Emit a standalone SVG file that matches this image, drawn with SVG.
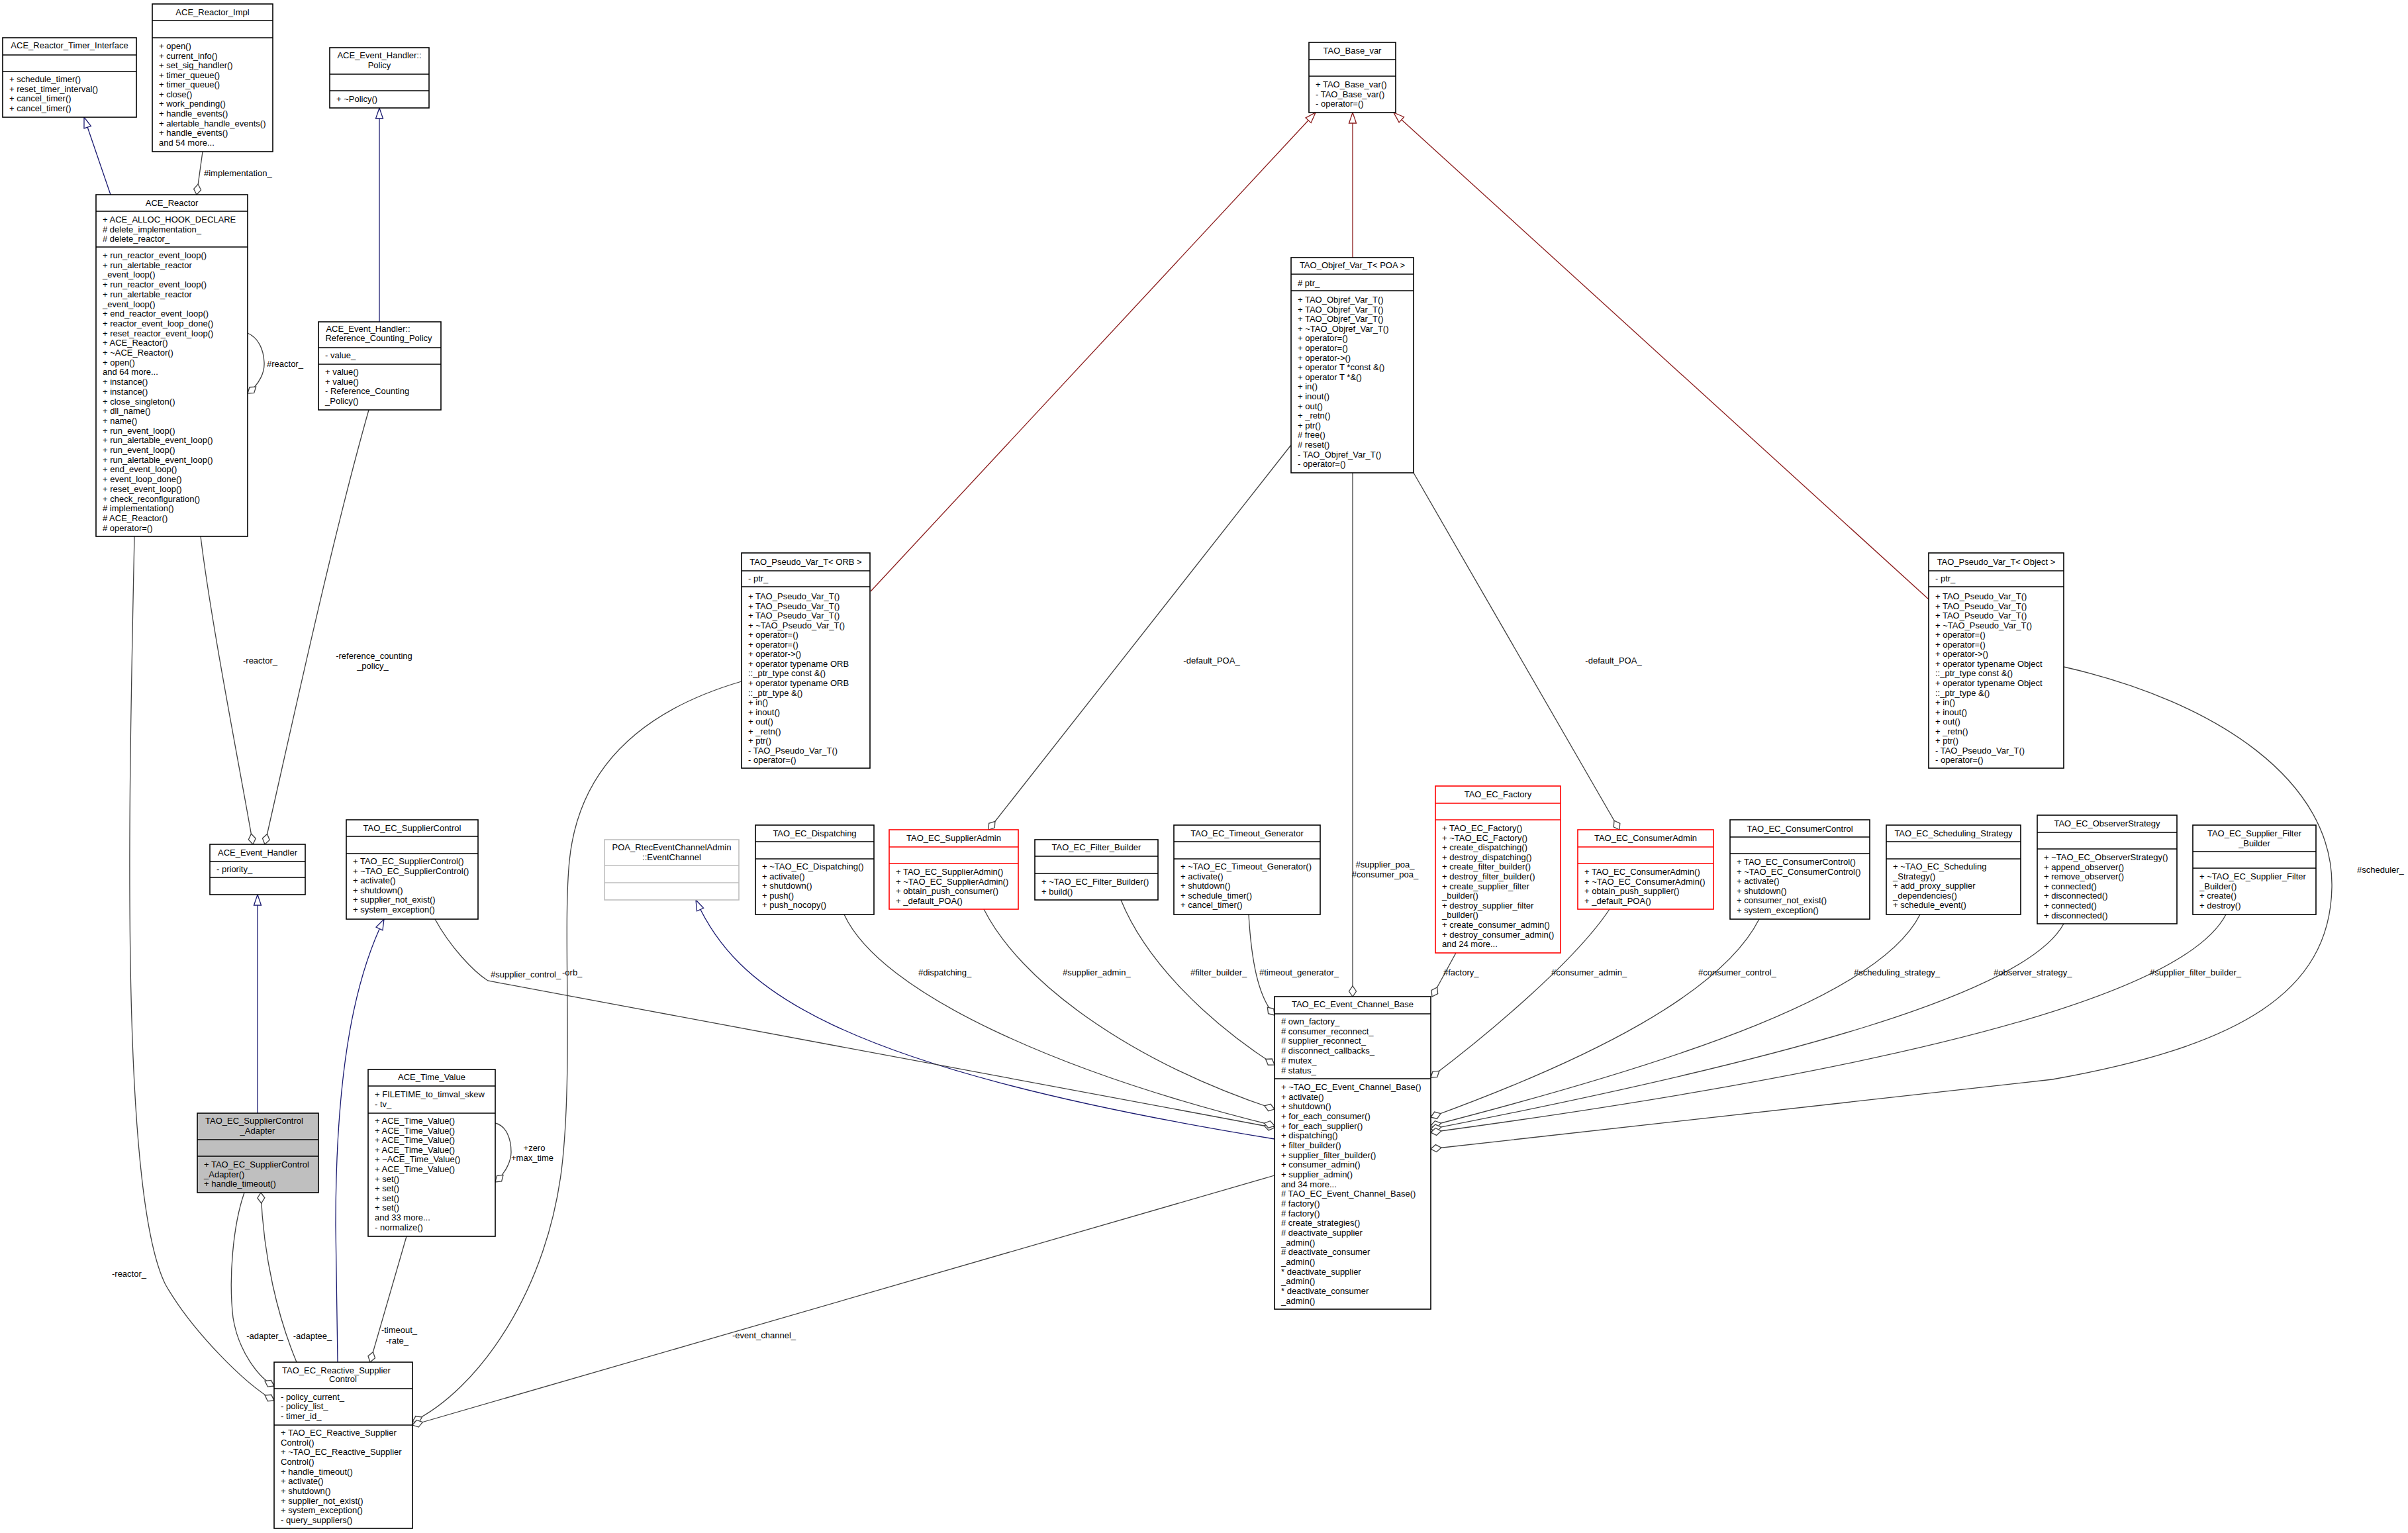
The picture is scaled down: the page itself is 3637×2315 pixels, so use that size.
<svg xmlns="http://www.w3.org/2000/svg" width="3637" height="2315" viewBox="0 0 3637 2315">
<defs>
<style>
text{font-family:"Liberation Sans",Arial,Helvetica,sans-serif;font-size:13px;fill:#000}
.c{text-anchor:middle}
.n rect{fill:#fff;stroke:#000;stroke-width:1.6}
.n path{fill:none;stroke:#000;stroke-width:1.6}
.red rect,.red path{stroke:#ff0000}
.gry rect,.gry path{stroke:#bfbfbf}
.gray rect{fill:#bfbfbf}
.e{fill:none;stroke:#404040;stroke-width:1.3;marker-start:url(#dia)}
.i{fill:none;stroke:#191970;stroke-width:1.3;marker-start:url(#tri)}
.r{fill:none;stroke:#8b1a1a;stroke-width:1.3;marker-start:url(#trir)}
</style>
<marker id="dia" markerUnits="userSpaceOnUse" viewBox="-1 -7 19 14" refX="0" refY="0" markerWidth="19" markerHeight="14" orient="auto"><path d="M0,0 L8,-5.5 L16,0 L8,5.5 Z" fill="#fff" stroke="#404040" stroke-width="1.3"/></marker>
<marker id="tri" markerUnits="userSpaceOnUse" viewBox="-1 -7 19 14" refX="0" refY="0" markerWidth="19" markerHeight="14" orient="auto"><path d="M0,0 L16,-5.5 L16,5.5 Z" fill="#fff" stroke="#191970" stroke-width="1.3"/></marker>
<marker id="trir" markerUnits="userSpaceOnUse" viewBox="-1 -7 19 14" refX="0" refY="0" markerWidth="19" markerHeight="14" orient="auto"><path d="M0,0 L16,-5.5 L16,5.5 Z" fill="#fff" stroke="#8b1a1a" stroke-width="1.3"/></marker>
</defs>
<rect x="0" y="0" width="3637" height="2315" fill="#fff"/>
<g id="connectors">
<path class="i" d="M127,177 L167,294"/>
<path class="e" d="M297,294 L306,229"/>
<text x="308" y="266">#implementation_</text>
<path class="i" d="M573,163 L573,486"/>
<path class="e" d="M374,594 C392,580 400,562 399,547 C398,527 390,510 374,503"/>
<text x="403" y="554">#reactor_</text>
<path class="e" d="M382,1275 C370,1200 320,950 303,810"/>
<text class="c" x="393" y="1002">-reactor_</text>
<path class="e" d="M400,1275 C440,1100 500,820 557,619"/>
<text class="c" x="565" y="995">-reference_counting</text>
<text class="c" x="563" y="1010">_policy_</text>
<path class="i" d="M389,1351 L389,1681"/>
<path class="i" d="M580,1388 C540,1470 507,1600 507,1850 L510,2057"/>
<path class="e" d="M414,2093 C390,2080 360,2040 352,1990 C345,1930 352,1850 369,1801"/>
<text class="c" x="400" y="2022">-adapter_</text>
<path class="e" d="M394,1801 C398,1900 420,1990 448,2057"/>
<text class="c" x="472" y="2022">-adaptee_</text>
<path class="e" d="M559,2057 L614,1867"/>
<text class="c" x="603" y="2013">-timeout_</text>
<text class="c" x="600" y="2029">-rate_</text>
<path class="e" d="M748,1785 C765,1770 772,1752 772,1740 C772,1720 765,1700 748,1696"/>
<text class="c" x="807" y="1738">+zero</text>
<text class="c" x="804" y="1753">+max_time</text>
<path class="e" d="M414,2115 C370,2090 290,2010 250,1940 C180,1800 195,1200 203,810"/>
<text class="c" x="195" y="1928">-reactor_</text>
<path class="e" d="M623,2147 C720,2100 830,1950 850,1750 C865,1600 850,1400 860,1300 C875,1150 980,1070 1120,1029"/>
<text x="849" y="1473">-orb_</text>
<path class="e" d="M623,2152 L1925,1775"/>
<text class="c" x="1154" y="2021">-event_channel_</text>
<path class="i" d="M1051,1359 C1110,1490 1250,1610 1925,1720"/>
<path class="e" d="M1925,1703 L737,1481 C715,1467 680,1430 657,1388"/>
<text x="741" y="1476">#supplier_control_</text>
<path class="e" d="M1925,1700 C1600,1620 1330,1500 1275,1381"/>
<text x="1387" y="1473">#dispatching_</text>
<path class="e" d="M1925,1675 C1700,1600 1540,1480 1486,1373"/>
<text x="1605" y="1473">#supplier_admin_</text>
<path class="e" d="M1925,1608 C1820,1540 1730,1450 1693,1359"/>
<text x="1798" y="1473">#filter_builder_</text>
<path class="e" d="M1925,1533 C1900,1505 1890,1450 1886,1381"/>
<text x="1902" y="1473">#timeout_generator_</text>
<path class="e" d="M2043,1505 L2043,714"/>
<text class="c" x="2092" y="1310">#supplier_poa_</text>
<text class="c" x="2092" y="1325">#consumer_poa_</text>
<path class="e" d="M2163,1505 L2199,1439"/>
<text x="2180" y="1473">#factory_</text>
<path class="e" d="M2161,1627 C2250,1560 2380,1450 2431,1373"/>
<text x="2343" y="1473">#consumer_admin_</text>
<path class="e" d="M2161,1687 C2400,1600 2600,1500 2657,1388"/>
<text x="2565" y="1473">#consumer_control_</text>
<path class="e" d="M2161,1700 C2550,1600 2840,1500 2900,1381"/>
<text x="2800" y="1473">#scheduling_strategy_</text>
<path class="e" d="M2161,1705 C2700,1600 3060,1500 3117,1395"/>
<text x="3011" y="1473">#observer_strategy_</text>
<path class="e" d="M2161,1710 C2900,1610 3300,1500 3362,1381"/>
<text x="3247" y="1473">#supplier_filter_builder_</text>
<path class="e" d="M2161,1735 L3100,1630 C3380,1580 3519,1500 3522,1340 C3525,1180 3350,1060 3117,1007"/>
<text x="3560" y="1318">#scheduler_</text>
<path class="r" d="M1987,170 L1315,893"/>
<path class="r" d="M2043,170 L2043,389"/>
<path class="r" d="M2105,170 L2913,905"/>
<path class="e" d="M1493,1253 L1950,672"/>
<text class="c" x="1830" y="1002">-default_POA_</text>
<path class="e" d="M2446,1253 L2135,714"/>
<text class="c" x="2437" y="1002">-default_POA_</text>
</g>

<g id="n_timer" class="n">
<rect x="4" y="57" width="202" height="120"/>
<path d="M4,83 h202 M4,108 h202"/>
<text class="c" x="105" y="73">ACE_Reactor_Timer_Interface</text>
<text y="124"><tspan x="14">+ schedule_timer()</tspan><tspan x="14" dy="14.7">+ reset_timer_interval()</tspan><tspan x="14" dy="14.7">+ cancel_timer()</tspan><tspan x="14" dy="14.7">+ cancel_timer()</tspan></text>
</g>

<g id="n_impl" class="n">
<rect x="230" y="6" width="182" height="223"/>
<path d="M230,31 h182 M230,57 h182"/>
<text class="c" x="321" y="23">ACE_Reactor_Impl</text>
<text y="74"><tspan x="240">+ open()</tspan><tspan x="240" dy="14.57">+ current_info()</tspan><tspan x="240" dy="14.57">+ set_sig_handler()</tspan><tspan x="240" dy="14.57">+ timer_queue()</tspan><tspan x="240" dy="14.57">+ timer_queue()</tspan><tspan x="240" dy="14.57">+ close()</tspan><tspan x="240" dy="14.57">+ work_pending()</tspan><tspan x="240" dy="14.57">+ handle_events()</tspan><tspan x="240" dy="14.57">+ alertable_handle_events()</tspan><tspan x="240" dy="14.57">+ handle_events()</tspan><tspan x="240" dy="14.57">and 54 more...</tspan></text>
</g>

<g id="n_policy" class="n">
<rect x="498" y="72" width="150" height="91"/>
<path d="M498,112 h150 M498,137 h150"/>
<text class="c" x="573" y="88">ACE_Event_Handler::</text>
<text class="c" x="573" y="103">Policy</text>
<text x="508" y="154">+ ~Policy()</text>
</g>

<g id="n_reactor" class="n">
<rect x="145" y="294" width="229" height="516"/>
<path d="M145,319 h229 M145,373 h229"/>
<text class="c" x="259.5" y="311">ACE_Reactor</text>
<text y="336"><tspan x="155">+ ACE_ALLOC_HOOK_DECLARE</tspan><tspan x="155" dy="14.6"># delete_implementation_</tspan><tspan x="155" dy="14.6"># delete_reactor_</tspan></text>
<text y="390"><tspan x="155">+ run_reactor_event_loop()</tspan><tspan x="155" dy="14.7">+ run_alertable_reactor</tspan><tspan x="155" dy="14.7">_event_loop()</tspan><tspan x="155" dy="14.7">+ run_reactor_event_loop()</tspan><tspan x="155" dy="14.7">+ run_alertable_reactor</tspan><tspan x="155" dy="14.7">_event_loop()</tspan><tspan x="155" dy="14.7">+ end_reactor_event_loop()</tspan><tspan x="155" dy="14.7">+ reactor_event_loop_done()</tspan><tspan x="155" dy="14.7">+ reset_reactor_event_loop()</tspan><tspan x="155" dy="14.7">+ ACE_Reactor()</tspan><tspan x="155" dy="14.7">+ ~ACE_Reactor()</tspan><tspan x="155" dy="14.7">+ open()</tspan><tspan x="155" dy="14.7">and 64 more...</tspan><tspan x="155" dy="14.7">+ instance()</tspan><tspan x="155" dy="14.7">+ instance()</tspan><tspan x="155" dy="14.7">+ close_singleton()</tspan><tspan x="155" dy="14.7">+ dll_name()</tspan><tspan x="155" dy="14.7">+ name()</tspan><tspan x="155" dy="14.7">+ run_event_loop()</tspan><tspan x="155" dy="14.7">+ run_alertable_event_loop()</tspan><tspan x="155" dy="14.7">+ run_event_loop()</tspan><tspan x="155" dy="14.7">+ run_alertable_event_loop()</tspan><tspan x="155" dy="14.7">+ end_event_loop()</tspan><tspan x="155" dy="14.7">+ event_loop_done()</tspan><tspan x="155" dy="14.7">+ reset_event_loop()</tspan><tspan x="155" dy="14.7">+ check_reconfiguration()</tspan><tspan x="155" dy="14.7"># implementation()</tspan><tspan x="155" dy="14.7"># ACE_Reactor()</tspan><tspan x="155" dy="14.7"># operator=()</tspan></text>
</g>

<g id="n_refpol" class="n">
<rect x="481" y="486" width="185" height="133"/>
<path d="M481,525 h185 M481,550 h185"/>
<text class="c" x="556" y="501">ACE_Event_Handler::</text>
<text class="c" x="572" y="515">Reference_Counting_Policy</text>
<text x="491" y="541">- value_</text>
<text y="566"><tspan x="491">+ value()</tspan><tspan x="491" dy="14.6">+ value()</tspan><tspan x="491" dy="14.6">- Reference_Counting</tspan><tspan x="491" dy="14.6">_Policy()</tspan></text>
</g>

<g id="n_evh" class="n">
<rect x="317" y="1275" width="144" height="76"/>
<path d="M317,1301 h144 M317,1325 h144"/>
<text class="c" x="389" y="1292">ACE_Event_Handler</text>
<text x="327" y="1317">- priority_</text>
</g>

<g id="n_supctl" class="n">
<rect x="523" y="1238" width="199" height="150"/>
<path d="M523,1263 h199 M523,1289 h199"/>
<text class="c" x="622.5" y="1255">TAO_EC_SupplierControl</text>
<text y="1305"><tspan x="533">+ TAO_EC_SupplierControl()</tspan><tspan x="533" dy="14.6">+ ~TAO_EC_SupplierControl()</tspan><tspan x="533" dy="14.6">+ activate()</tspan><tspan x="533" dy="14.6">+ shutdown()</tspan><tspan x="533" dy="14.6">+ supplier_not_exist()</tspan><tspan x="533" dy="14.6">+ system_exception()</tspan></text>
</g>

<g id="n_adapter" class="n gray">
<rect x="298" y="1681" width="183" height="120"/>
<path d="M298,1721 h183 M298,1746 h183"/>
<text class="c" x="384" y="1697">TAO_EC_SupplierControl</text>
<text class="c" x="389" y="1712">_Adapter</text>
<text y="1763"><tspan x="308">+ TAO_EC_SupplierControl</tspan><tspan x="308" dy="14.6">_Adapter()</tspan><tspan x="308" dy="14.6">+ handle_timeout()</tspan></text>
</g>

<g id="n_time" class="n">
<rect x="556" y="1615" width="192" height="252"/>
<path d="M556,1640 h192 M556,1681 h192"/>
<text class="c" x="652" y="1631">ACE_Time_Value</text>
<text y="1657"><tspan x="566">+ FILETIME_to_timval_skew</tspan><tspan x="566" dy="14.6">- tv_</tspan></text>
<text y="1697"><tspan x="566">+ ACE_Time_Value()</tspan><tspan x="566" dy="14.6">+ ACE_Time_Value()</tspan><tspan x="566" dy="14.6">+ ACE_Time_Value()</tspan><tspan x="566" dy="14.6">+ ACE_Time_Value()</tspan><tspan x="566" dy="14.6">+ ~ACE_Time_Value()</tspan><tspan x="566" dy="14.6">+ ACE_Time_Value()</tspan><tspan x="566" dy="14.6">+ set()</tspan><tspan x="566" dy="14.6">+ set()</tspan><tspan x="566" dy="14.6">+ set()</tspan><tspan x="566" dy="14.6">+ set()</tspan><tspan x="566" dy="14.6">and 33 more...</tspan><tspan x="566" dy="14.6">- normalize()</tspan></text>
</g>

<g id="n_reactive" class="n">
<rect x="414" y="2057" width="209" height="251"/>
<path d="M414,2097 h209 M414,2152 h209"/>
<text class="c" x="508" y="2074">TAO_EC_Reactive_Supplier</text>
<text class="c" x="518" y="2087">Control</text>
<text y="2114"><tspan x="424">- policy_current_</tspan><tspan x="424" dy="14.3">- policy_list_</tspan><tspan x="424" dy="14.3">- timer_id_</tspan></text>
<text y="2168"><tspan x="424">+ TAO_EC_Reactive_Supplier</tspan><tspan x="424" dy="14.67">Control()</tspan><tspan x="424" dy="14.67">+ ~TAO_EC_Reactive_Supplier</tspan><tspan x="424" dy="14.67">Control()</tspan><tspan x="424" dy="14.67">+ handle_timeout()</tspan><tspan x="424" dy="14.67">+ activate()</tspan><tspan x="424" dy="14.67">+ shutdown()</tspan><tspan x="424" dy="14.67">+ supplier_not_exist()</tspan><tspan x="424" dy="14.67">+ system_exception()</tspan><tspan x="424" dy="14.67">- query_suppliers()</tspan></text>
</g>

<g id="n_basevar" class="n">
<rect x="1977" y="64" width="131" height="106"/>
<path d="M1977,90 h131 M1977,115 h131"/>
<text class="c" x="2042.5" y="81">TAO_Base_var</text>
<text y="132"><tspan x="1987">+ TAO_Base_var()</tspan><tspan x="1987" dy="14.5">- TAO_Base_var()</tspan><tspan x="1987" dy="14.5">- operator=()</tspan></text>
</g>

<g id="n_objref" class="n">
<rect x="1950" y="389" width="185" height="325"/>
<path d="M1950,414 h185 M1950,439 h185"/>
<text class="c" x="2042.5" y="405">TAO_Objref_Var_T&lt; POA &gt;</text>
<text x="1960" y="432"># ptr_</text>
<text y="457"><tspan x="1960">+ TAO_Objref_Var_T()</tspan><tspan x="1960" dy="14.6">+ TAO_Objref_Var_T()</tspan><tspan x="1960" dy="14.6">+ TAO_Objref_Var_T()</tspan><tspan x="1960" dy="14.6">+ ~TAO_Objref_Var_T()</tspan><tspan x="1960" dy="14.6">+ operator=()</tspan><tspan x="1960" dy="14.6">+ operator=()</tspan><tspan x="1960" dy="14.6">+ operator-&gt;()</tspan><tspan x="1960" dy="14.6">+ operator T *const &amp;()</tspan><tspan x="1960" dy="14.6">+ operator T *&amp;()</tspan><tspan x="1960" dy="14.6">+ in()</tspan><tspan x="1960" dy="14.6">+ inout()</tspan><tspan x="1960" dy="14.6">+ out()</tspan><tspan x="1960" dy="14.6">+ _retn()</tspan><tspan x="1960" dy="14.6">+ ptr()</tspan><tspan x="1960" dy="14.6"># free()</tspan><tspan x="1960" dy="14.6"># reset()</tspan><tspan x="1960" dy="14.6">- TAO_Objref_Var_T()</tspan><tspan x="1960" dy="14.6">- operator=()</tspan></text>
</g>

<g id="n_orb" class="n">
<rect x="1120" y="835" width="194" height="325"/>
<path d="M1120,862 h194 M1120,886 h194"/>
<text class="c" x="1217" y="853">TAO_Pseudo_Var_T&lt; ORB &gt;</text>
<text x="1130" y="878">- ptr_</text>
<text y="905"><tspan x="1130">+ TAO_Pseudo_Var_T()</tspan><tspan x="1130" dy="14.55">+ TAO_Pseudo_Var_T()</tspan><tspan x="1130" dy="14.55">+ TAO_Pseudo_Var_T()</tspan><tspan x="1130" dy="14.55">+ ~TAO_Pseudo_Var_T()</tspan><tspan x="1130" dy="14.55">+ operator=()</tspan><tspan x="1130" dy="14.55">+ operator=()</tspan><tspan x="1130" dy="14.55">+ operator-&gt;()</tspan><tspan x="1130" dy="14.55">+ operator typename ORB</tspan><tspan x="1130" dy="14.55">::_ptr_type const &amp;()</tspan><tspan x="1130" dy="14.55">+ operator typename ORB</tspan><tspan x="1130" dy="14.55">::_ptr_type &amp;()</tspan><tspan x="1130" dy="14.55">+ in()</tspan><tspan x="1130" dy="14.55">+ inout()</tspan><tspan x="1130" dy="14.55">+ out()</tspan><tspan x="1130" dy="14.55">+ _retn()</tspan><tspan x="1130" dy="14.55">+ ptr()</tspan><tspan x="1130" dy="14.55">- TAO_Pseudo_Var_T()</tspan><tspan x="1130" dy="14.55">- operator=()</tspan></text>
</g>

<g id="n_object" class="n">
<rect x="2913" y="835" width="204" height="325"/>
<path d="M2913,862 h204 M2913,886 h204"/>
<text class="c" x="3015" y="853">TAO_Pseudo_Var_T&lt; Object &gt;</text>
<text x="2923" y="878">- ptr_</text>
<text y="905"><tspan x="2923">+ TAO_Pseudo_Var_T()</tspan><tspan x="2923" dy="14.55">+ TAO_Pseudo_Var_T()</tspan><tspan x="2923" dy="14.55">+ TAO_Pseudo_Var_T()</tspan><tspan x="2923" dy="14.55">+ ~TAO_Pseudo_Var_T()</tspan><tspan x="2923" dy="14.55">+ operator=()</tspan><tspan x="2923" dy="14.55">+ operator=()</tspan><tspan x="2923" dy="14.55">+ operator-&gt;()</tspan><tspan x="2923" dy="14.55">+ operator typename Object</tspan><tspan x="2923" dy="14.55">::_ptr_type const &amp;()</tspan><tspan x="2923" dy="14.55">+ operator typename Object</tspan><tspan x="2923" dy="14.55">::_ptr_type &amp;()</tspan><tspan x="2923" dy="14.55">+ in()</tspan><tspan x="2923" dy="14.55">+ inout()</tspan><tspan x="2923" dy="14.55">+ out()</tspan><tspan x="2923" dy="14.55">+ _retn()</tspan><tspan x="2923" dy="14.55">+ ptr()</tspan><tspan x="2923" dy="14.55">- TAO_Pseudo_Var_T()</tspan><tspan x="2923" dy="14.55">- operator=()</tspan></text>
</g>

<g id="n_poa" class="n gry">
<rect x="913" y="1268" width="203" height="91"/>
<path d="M913,1307 h203 M913,1333 h203"/>
<text class="c" x="1014.5" y="1284">POA_RtecEventChannelAdmin</text>
<text class="c" x="1014.5" y="1299">::EventChannel</text>
</g>

<g id="n_disp" class="n">
<rect x="1141" y="1246" width="179" height="135"/>
<path d="M1141,1271 h179 M1141,1297 h179"/>
<text class="c" x="1230.5" y="1263">TAO_EC_Dispatching</text>
<text y="1313"><tspan x="1151">+ ~TAO_EC_Dispatching()</tspan><tspan x="1151" dy="14.6">+ activate()</tspan><tspan x="1151" dy="14.6">+ shutdown()</tspan><tspan x="1151" dy="14.6">+ push()</tspan><tspan x="1151" dy="14.6">+ push_nocopy()</tspan></text>
</g>

<g id="n_supadm" class="n red">
<rect x="1343" y="1253" width="195" height="120"/>
<path d="M1343,1279 h195 M1343,1304 h195"/>
<text class="c" x="1440.5" y="1270">TAO_EC_SupplierAdmin</text>
<text y="1321"><tspan x="1353">+ TAO_EC_SupplierAdmin()</tspan><tspan x="1353" dy="14.6">+ ~TAO_EC_SupplierAdmin()</tspan><tspan x="1353" dy="14.6">+ obtain_push_consumer()</tspan><tspan x="1353" dy="14.6">+ _default_POA()</tspan></text>
</g>

<g id="n_filt" class="n">
<rect x="1563" y="1268" width="186" height="91"/>
<path d="M1563,1293 h186 M1563,1319 h186"/>
<text class="c" x="1656" y="1284">TAO_EC_Filter_Builder</text>
<text y="1336"><tspan x="1573">+ ~TAO_EC_Filter_Builder()</tspan><tspan x="1573" dy="14.6">+ build()</tspan></text>
</g>

<g id="n_timeout" class="n">
<rect x="1773" y="1246" width="221" height="135"/>
<path d="M1773,1271 h221 M1773,1297 h221"/>
<text class="c" x="1883.5" y="1263">TAO_EC_Timeout_Generator</text>
<text y="1313"><tspan x="1783">+ ~TAO_EC_Timeout_Generator()</tspan><tspan x="1783" dy="14.6">+ activate()</tspan><tspan x="1783" dy="14.6">+ shutdown()</tspan><tspan x="1783" dy="14.6">+ schedule_timer()</tspan><tspan x="1783" dy="14.6">+ cancel_timer()</tspan></text>
</g>

<g id="n_factory" class="n red">
<rect x="2168" y="1187" width="189" height="252"/>
<path d="M2168,1213 h189 M2168,1238 h189"/>
<text class="c" x="2262.5" y="1204">TAO_EC_Factory</text>
<text y="1255"><tspan x="2178">+ TAO_EC_Factory()</tspan><tspan x="2178" dy="14.6">+ ~TAO_EC_Factory()</tspan><tspan x="2178" dy="14.6">+ create_dispatching()</tspan><tspan x="2178" dy="14.6">+ destroy_dispatching()</tspan><tspan x="2178" dy="14.6">+ create_filter_builder()</tspan><tspan x="2178" dy="14.6">+ destroy_filter_builder()</tspan><tspan x="2178" dy="14.6">+ create_supplier_filter</tspan><tspan x="2178" dy="14.6">_builder()</tspan><tspan x="2178" dy="14.6">+ destroy_supplier_filter</tspan><tspan x="2178" dy="14.6">_builder()</tspan><tspan x="2178" dy="14.6">+ create_consumer_admin()</tspan><tspan x="2178" dy="14.6">+ destroy_consumer_admin()</tspan><tspan x="2178" dy="14.6">and 24 more...</tspan></text>
</g>

<g id="n_conadm" class="n red">
<rect x="2383" y="1253" width="205" height="120"/>
<path d="M2383,1279 h205 M2383,1304 h205"/>
<text class="c" x="2485.5" y="1270">TAO_EC_ConsumerAdmin</text>
<text y="1321"><tspan x="2393">+ TAO_EC_ConsumerAdmin()</tspan><tspan x="2393" dy="14.6">+ ~TAO_EC_ConsumerAdmin()</tspan><tspan x="2393" dy="14.6">+ obtain_push_supplier()</tspan><tspan x="2393" dy="14.6">+ _default_POA()</tspan></text>
</g>

<g id="n_conctl" class="n">
<rect x="2613" y="1238" width="211" height="150"/>
<path d="M2613,1264 h211 M2613,1289 h211"/>
<text class="c" x="2718.5" y="1256">TAO_EC_ConsumerControl</text>
<text y="1306"><tspan x="2623">+ TAO_EC_ConsumerControl()</tspan><tspan x="2623" dy="14.6">+ ~TAO_EC_ConsumerControl()</tspan><tspan x="2623" dy="14.6">+ activate()</tspan><tspan x="2623" dy="14.6">+ shutdown()</tspan><tspan x="2623" dy="14.6">+ consumer_not_exist()</tspan><tspan x="2623" dy="14.6">+ system_exception()</tspan></text>
</g>

<g id="n_sched" class="n">
<rect x="2849" y="1246" width="203" height="135"/>
<path d="M2849,1271 h203 M2849,1297 h203"/>
<text class="c" x="2950.5" y="1263">TAO_EC_Scheduling_Strategy</text>
<text y="1313"><tspan x="2859">+ ~TAO_EC_Scheduling</tspan><tspan x="2859" dy="14.6">_Strategy()</tspan><tspan x="2859" dy="14.6">+ add_proxy_supplier</tspan><tspan x="2859" dy="14.6">_dependencies()</tspan><tspan x="2859" dy="14.6">+ schedule_event()</tspan></text>
</g>

<g id="n_obs" class="n">
<rect x="3077" y="1231" width="211" height="164"/>
<path d="M3077,1257 h211 M3077,1282 h211"/>
<text class="c" x="3182.5" y="1248">TAO_EC_ObserverStrategy</text>
<text y="1299"><tspan x="3087">+ ~TAO_EC_ObserverStrategy()</tspan><tspan x="3087" dy="14.6">+ append_observer()</tspan><tspan x="3087" dy="14.6">+ remove_observer()</tspan><tspan x="3087" dy="14.6">+ connected()</tspan><tspan x="3087" dy="14.6">+ disconnected()</tspan><tspan x="3087" dy="14.6">+ connected()</tspan><tspan x="3087" dy="14.6">+ disconnected()</tspan></text>
</g>

<g id="n_sfb" class="n">
<rect x="3312" y="1246" width="186" height="135"/>
<path d="M3312,1286 h186 M3312,1311 h186"/>
<text class="c" x="3405" y="1263">TAO_EC_Supplier_Filter</text>
<text class="c" x="3405" y="1278">_Builder</text>
<text y="1328"><tspan x="3322">+ ~TAO_EC_Supplier_Filter</tspan><tspan x="3322" dy="14.6">_Builder()</tspan><tspan x="3322" dy="14.6">+ create()</tspan><tspan x="3322" dy="14.6">+ destroy()</tspan></text>
</g>

<g id="n_ecb" class="n">
<rect x="1925" y="1505" width="236" height="472"/>
<path d="M1925,1531 h236 M1925,1629 h236"/>
<text class="c" x="2043" y="1521">TAO_EC_Event_Channel_Base</text>
<text y="1547"><tspan x="1935"># own_factory_</tspan><tspan x="1935" dy="14.7"># consumer_reconnect_</tspan><tspan x="1935" dy="14.7"># supplier_reconnect_</tspan><tspan x="1935" dy="14.7"># disconnect_callbacks_</tspan><tspan x="1935" dy="14.7"># mutex_</tspan><tspan x="1935" dy="14.7"># status_</tspan></text>
<text y="1646"><tspan x="1935">+ ~TAO_EC_Event_Channel_Base()</tspan><tspan x="1935" dy="14.67">+ activate()</tspan><tspan x="1935" dy="14.67">+ shutdown()</tspan><tspan x="1935" dy="14.67">+ for_each_consumer()</tspan><tspan x="1935" dy="14.67">+ for_each_supplier()</tspan><tspan x="1935" dy="14.67">+ dispatching()</tspan><tspan x="1935" dy="14.67">+ filter_builder()</tspan><tspan x="1935" dy="14.67">+ supplier_filter_builder()</tspan><tspan x="1935" dy="14.67">+ consumer_admin()</tspan><tspan x="1935" dy="14.67">+ supplier_admin()</tspan><tspan x="1935" dy="14.67">and 34 more...</tspan><tspan x="1935" dy="14.67"># TAO_EC_Event_Channel_Base()</tspan><tspan x="1935" dy="14.67"># factory()</tspan><tspan x="1935" dy="14.67"># factory()</tspan><tspan x="1935" dy="14.67"># create_strategies()</tspan><tspan x="1935" dy="14.67"># deactivate_supplier</tspan><tspan x="1935" dy="14.67">_admin()</tspan><tspan x="1935" dy="14.67"># deactivate_consumer</tspan><tspan x="1935" dy="14.67">_admin()</tspan><tspan x="1935" dy="14.67">* deactivate_supplier</tspan><tspan x="1935" dy="14.67">_admin()</tspan><tspan x="1935" dy="14.67">* deactivate_consumer</tspan><tspan x="1935" dy="14.67">_admin()</tspan></text>
</g>
</svg>
